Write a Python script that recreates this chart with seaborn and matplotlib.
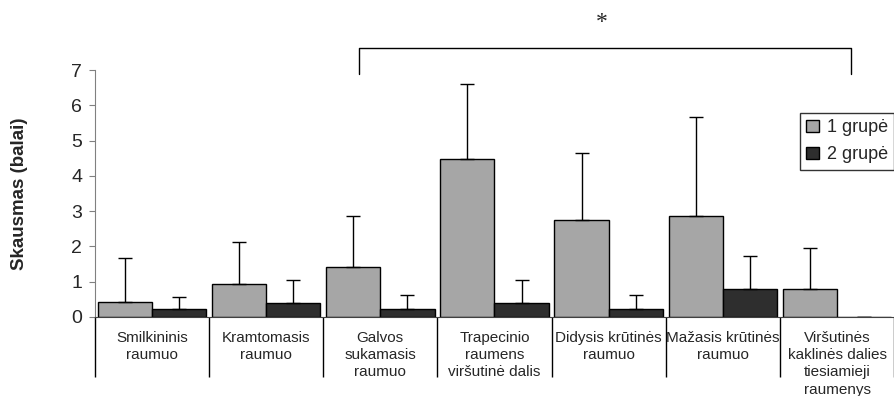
import pandas as pd
import matplotlib
matplotlib.use('Agg')
import matplotlib.pyplot as plt
import seaborn as sns
import numpy as np

# %% data
raumenys = ['Smilkininis\nraumuo', 'Kramtomasis\nraumuo', 'Galvos\nsukamasis\nraumuo',
            'Trapecinio\nraumens\nviršutinė dalis', 'Didysis krūtinės\nraumuo',
            'Mažasis krūtinės\nraumuo', 'Viršutinės\nkaklinės dalies\ntiesiamieji\nraumenys']
grupe1 = [0.43, 0.94, 1.40, 4.47, 2.74, 2.87, 0.80]
grupe1_sd = [1.23, 1.19, 1.47, 2.14, 1.90, 2.79, 1.15]
grupe2 = [0.21, 0.39, 0.21, 0.39, 0.21, 0.80, 0.0]
grupe2_sd = [0.36, 0.66, 0.40, 0.66, 0.40, 0.92, 0.0]
grupes = ['1 grupė', '2 grupė']

# %%
df = pd.DataFrame({
    'raumuo': raumenys * 2,
    'grupe': [grupes[0]] * len(raumenys) + [grupes[1]] * len(raumenys),
    'skausmas': grupe1 + grupe2,
    'sd': grupe1_sd + grupe2_sd,
})

sns.set_style('white')
plt.rcParams['font.family'] = ['Liberation Sans', 'DejaVu Sans']

fig = plt.figure(figsize=(8.95, 3.96), dpi=100)
ax = fig.add_axes([0.106, 0.2, 0.893, 0.623])

sns.barplot(data=df, x='raumuo', y='skausmas', hue='grupe', order=raumenys,
            hue_order=grupes, palette=['#a6a6a6', '#2e2e2e'], width=0.95, gap=0,
            edgecolor='black', linewidth=1, saturation=1, errorbar=None, ax=ax)

# one-sided error bars on top of the bars seaborn drew
for cont, g in zip(ax.containers, grupes):
    sub = df[df['grupe'] == g].set_index('raumuo').loc[raumenys]
    xs = [b.get_x() + b.get_width() / 2 for b in cont]
    sd = sub['sd'].values
    ax.errorbar(xs, sub['skausmas'].values, yerr=[np.zeros_like(sd), sd],
                fmt='none', ecolor='black', elinewidth=1, capsize=5, capthick=1)

ax.set_ylim(0, 7)
ax.set_xlim(-0.5, len(raumenys) - 0.5)
ax.set_yticks(range(0, 8))
ax.tick_params(axis='y', labelsize=14, length=4, color='#808080', left=True, pad=5)
ax.tick_params(axis='x', labelsize=11, length=0, pad=10)
for t in ax.get_xticklabels():
    t.set_linespacing(1.3)
ax.set_xlabel('')
ax.set_ylabel('Skausmas (balai)', fontsize=13.5, fontweight='bold', labelpad=31)
sns.despine(ax=ax, top=True, right=True)
ax.spines['left'].set_color('#808080')
ax.spines['bottom'].set_color('#404040')

# label table separators
ax.vlines(np.arange(len(raumenys) + 1) - 0.5, -1.72, 0, colors='black',
          linewidth=1, clip_on=False)

# significance bracket
ax.plot([1.81, 1.81, 6.12, 6.12], [6.88, 7.64, 7.64, 6.88], color='black',
        linewidth=1, clip_on=False)
ax.text(3.94, 8.34, '*', ha='center', va='center', fontsize=17,
        family='Liberation Serif', clip_on=False)

leg = ax.legend(loc='upper left', bbox_to_anchor=(0.882, 0.826), fontsize=13,
                frameon=True, fancybox=False, edgecolor='black', handlelength=0.7,
                handleheight=0.7, handletextpad=0.45, borderpad=0.35, labelspacing=0.55,
                borderaxespad=0)
leg.get_frame().set_linewidth(1)

fig.savefig('out.png', dpi=100)
